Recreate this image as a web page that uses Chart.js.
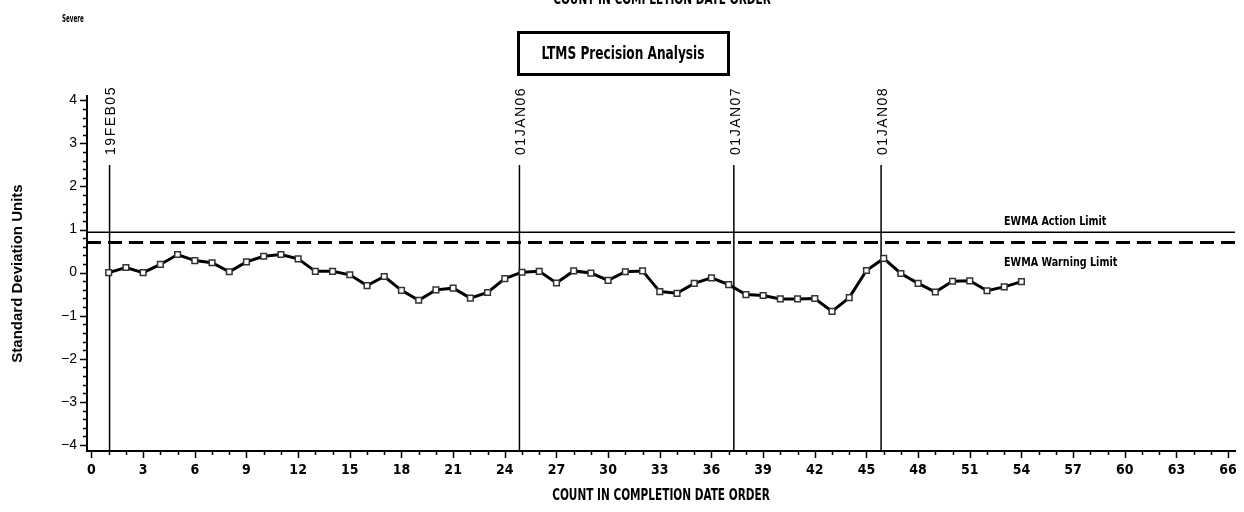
<!DOCTYPE html>
<html>
<head>
<meta charset="utf-8">
<script src="https://cdn.jsdelivr.net/npm/chart.js@4.4.1/dist/chart.umd.min.js"></script>
<style>
  html, body { margin: 0; padding: 0; background: #fff; }
  #wrap { width: 1244px; height: 512px; }
</style>
</head>
<body>
<div id="wrap"><canvas id="c" width="1244" height="512"></canvas></div>
<script>
// ---- data ----
const counts = [1,2,3,4,5,6,7,8,9,10,11,12,13,14,15,16,17,18,19,20,21,22,23,24,25,26,27,
                28,29,30,31,32,33,34,35,36,37,38,39,40,41,42,43,44,45,46,47,48,49,50,51,52,53,54];
const ewmaValues = [0.00,0.12,0.00,0.19,0.42,0.28,0.23,0.02,0.25,0.38,0.42,0.32,0.03,0.03,-0.05,
                    -0.30,-0.09,-0.41,-0.64,-0.40,-0.36,-0.59,-0.46,-0.14,0.01,0.03,-0.24,0.04,-0.01,
                    -0.18,0.02,0.04,-0.44,-0.48,-0.25,-0.12,-0.28,-0.51,-0.53,-0.61,-0.61,-0.60,-0.90,
                    -0.58,0.05,0.33,-0.02,-0.25,-0.45,-0.20,-0.19,-0.42,-0.33,-0.21];
const actionLimit = 0.935;
const warningLimit = 0.70;
const dateMarkerCounts = [1.05, 24.85, 37.3, 45.85];
const dateMarkerLabels = ['19FEB05', '01JAN06', '01JAN07', '01JAN08'];
const dateMarkerTop = 2.5;
const xTickValues = [0,3,6,9,12,15,18,21,24,27,30,33,36,39,42,45,48,51,54,57,60,63,66];
const yTickValues = [-4,-3,-2,-1,0,1,2,3,4];
const xMin = -0.26, xMax = 66.4, yMin = -4.14, yMax = 4.1;

const NARROW = "'Liberation Sans Narrow', 'DejaVu Sans Condensed', 'Arial Narrow', sans-serif";
const SANS = "'Liberation Sans', Arial, sans-serif";

// ---- datasets built from the arrays ----
const seriesPoints = counts.map((c, i) => ({ x: c, y: ewmaValues[i] }));
const datasets = [
  {
    label: 'EWMA',
    data: seriesPoints,
    borderColor: '#000',
    borderWidth: 3,
    pointStyle: 'rect',
    pointRadius: 4,
    pointBackgroundColor: '#fff',
    pointBorderColor: '#333',
    pointBorderWidth: 1.5,
    tension: 0
  },
  {
    label: 'EWMA Action Limit',
    data: [{ x: xMin, y: actionLimit }, { x: xMax, y: actionLimit }],
    borderColor: '#000', borderWidth: 1.5, pointRadius: 0
  },
  {
    label: 'EWMA Warning Limit',
    data: [{ x: xMin, y: warningLimit }, { x: xMax, y: warningLimit }],
    borderColor: '#000', borderWidth: 3, borderDash: [14, 7], pointRadius: 0
  }
];
dateMarkerCounts.forEach((m, i) => {
  datasets.push({
    label: dateMarkerLabels[i],
    data: [{ x: m, y: yMin }, { x: m, y: dateMarkerTop }],
    borderColor: '#000', borderWidth: 1.5, pointRadius: 0
  });
});

// draw text horizontally condensed
function condensedText(ctx, text, x, y, font, sx, align) {
  ctx.save();
  ctx.font = font;
  ctx.textBaseline = 'middle';
  ctx.textAlign = align || 'left';
  ctx.translate(x, y);
  ctx.scale(sx, 1);
  ctx.fillText(text, 0, 0);
  ctx.restore();
}

// ---- extra drawing: minor/major ticks, annotations, titles ----
const decorPlugin = {
  id: 'decor',
  afterDraw(chart) {
    const ctx = chart.ctx;
    const xs = chart.scales.x, ys = chart.scales.y;
    const area = chart.chartArea;
    ctx.save();
    ctx.strokeStyle = '#000';
    ctx.fillStyle = '#000';
    ctx.lineWidth = 1.5;
    // y ticks (major at integers, minor every 0.2)
    for (let k = -20; k <= 20; k++) {
      const v = k / 5;
      const py = Math.round(ys.getPixelForValue(v)) + 0.5;
      const len = (k % 5 === 0) ? 7 : 4;
      ctx.beginPath();
      ctx.moveTo(area.left, py);
      ctx.lineTo(area.left - len, py);
      ctx.stroke();
    }
    // x ticks (major every 3, minor every 1)
    for (let v = 0; v <= 66; v++) {
      const px = Math.round(xs.getPixelForValue(v)) + 0.5;
      const len = (v % 3 === 0) ? 7 : 4;
      ctx.beginPath();
      ctx.moveTo(px, area.bottom);
      ctx.lineTo(px, area.bottom + len);
      ctx.stroke();
    }
    // date marker labels
    ctx.font = '14px ' + SANS;
    try { ctx.letterSpacing = '1.5px'; } catch (e) {}
    ctx.textAlign = 'left';
    ctx.textBaseline = 'middle';
    dateMarkerCounts.forEach((m, i) => {
      const px = xs.getPixelForValue(m) + 2;
      const py = ys.getPixelForValue(dateMarkerTop) - 10;
      ctx.save();
      ctx.translate(px, py);
      ctx.rotate(-Math.PI / 2);
      ctx.fillText(dateMarkerLabels[i], 0, 0);
      ctx.restore();
    });
    try { ctx.letterSpacing = '0px'; } catch (e) {}
    // limit labels
    const lx = area.right - 231;
    condensedText(ctx, 'EWMA Action Limit', lx, ys.getPixelForValue(actionLimit) - 11, 'bold 13px ' + NARROW, 0.82, 'left');
    condensedText(ctx, 'EWMA Warning Limit', lx, ys.getPixelForValue(warningLimit) + 20, 'bold 13px ' + NARROW, 0.82, 'left');
    // x axis title
    const cx = (area.left + area.right) / 2;
    condensedText(ctx, 'COUNT IN COMPLETION DATE ORDER', cx, 496, 'bold 15px ' + NARROW, 0.78, 'center');
    // top clipped heading
    condensedText(ctx, 'COUNT IN COMPLETION DATE ORDER', cx + 1, 0, 'bold 15px ' + NARROW, 0.78, 'center');
    // Severe
    condensedText(ctx, 'Severe', 62, 19, 'bold 10px ' + NARROW, 0.62, 'left');
    // boxed title
    ctx.lineWidth = 3;
    ctx.strokeRect(518.5, 32.5, 210, 42);
    condensedText(ctx, 'LTMS Precision Analysis', 623, 54, 'bold 18px ' + NARROW, 0.75, 'center');
    ctx.restore();
  }
};

new Chart(document.getElementById('c'), {
  type: 'line',
  data: { datasets },
  plugins: [decorPlugin],
  options: {
    responsive: false,
    animation: false,
    devicePixelRatio: 1,
    layout: { padding: { top: 96, right: 9, bottom: 0, left: 0 } },
    plugins: { legend: { display: false }, tooltip: { enabled: false }, title: { display: false } },
    scales: {
      x: {
        type: 'linear',
        min: xMin, max: xMax,
        afterBuildTicks: (s) => { s.ticks = xTickValues.map(v => ({ value: v })); },
        afterFit: (s) => { s.height = 61; },
        grid: { display: false, drawTicks: true, tickLength: 7 },
        border: { display: true, color: '#000', width: 2 },
        ticks: {
          autoSkip: false, maxRotation: 0, minRotation: 0, padding: 4,
          color: '#000',
          font: { family: NARROW, size: 14, weight: 'bold' },
          callback: (v) => String(v)
        },
        title: { display: false }
      },
      y: {
        type: 'linear',
        min: yMin, max: yMax,
        afterBuildTicks: (s) => { s.ticks = yTickValues.map(v => ({ value: v })); },
        afterFit: (s) => { s.width = 87; },
        grid: { display: false, drawTicks: true, tickLength: 7 },
        border: { display: true, color: '#000', width: 2 },
        ticks: {
          padding: 3,
          color: '#000',
          font: { family: SANS, size: 14 },
          callback: (v) => (v < 0 ? '\u2212' + Math.abs(v) : String(v))
        },
        title: {
          display: true,
          text: 'Standard Deviation Units',
          color: '#000',
          font: { family: SANS, size: 15, weight: 'bold' },
          padding: { top: 9, bottom: 0 }
        }
      }
    }
  }
});
</script>
</body>
</html>
